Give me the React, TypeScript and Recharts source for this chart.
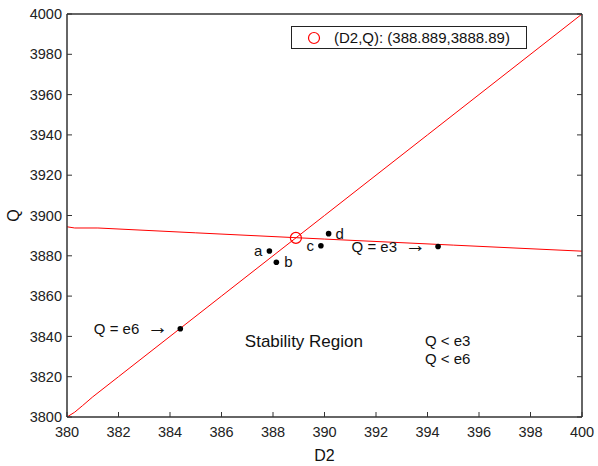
import {
  ComposedChart,
  Line,
  Scatter,
  XAxis,
  YAxis,
  Legend,
  ReferenceDot,
} from "recharts";

const FONT = "'Liberation Sans', Arial, sans-serif";
const RED = "#ff0000";
const AXIS = "#333";
const TICK_LEN = 5;

const D2_TICKS = [380, 382, 384, 386, 388, 390, 392, 394, 396, 398, 400];
const Q_TICKS = [3800, 3820, 3840, 3860, 3880, 3900, 3920, 3940, 3960, 3980, 4000];

// Q = e3 boundary (almost flat)
const e3D2 = [380, 380.3, 381.2, 385, 390, 395, 400];
const e3Q = [3894.4, 3893.8, 3893.8, 3891.4, 3888.3, 3885.3, 3882.3];

// Q = e6 boundary (diagonal)
const e6D2 = [380, 380.3, 380.6, 381, 382, 386, 390, 394, 400];
const e6Q = [3800, 3802.4, 3805.6, 3810, 3820, 3860, 3900, 3940, 4000];

// labelled sample points
const pointLabels = ["a", "b", "c", "d", "Q = e3", "Q = e6"];
const pointD2 = [387.86, 388.13, 389.86, 390.16, 394.41, 384.4];
const pointQ = [3882.4, 3876.8, 3885.0, 3891.0, 3884.6, 3843.8];

const crossD2 = [388.889];
const crossQ = [3888.89];

const e3Data = e3D2.map((d2, i) => ({ d2, q: e3Q[i] }));
const e6Data = e6D2.map((d2, i) => ({ d2, q: e6Q[i] }));
const pointData = pointD2.map((d2, i) => ({ d2, q: pointQ[i], label: pointLabels[i] }));
const crossData = crossD2.map((d2, i) => ({ d2, q: crossQ[i] }));

// label placement per point: negative = to the left
const labelDx: Record<string, number> = {
  a: -7,
  b: 8,
  c: -7,
  d: 7,
};

const PointShape = (props: any) => {
  const { cx, cy, payload } = props;
  const short = payload.label.length === 1;
  const dx = labelDx[payload.label] ?? -12;
  return (
    <g>
      <circle cx={cx} cy={cy} r={2.8} fill="#000" />
      <text
        x={cx + dx}
        y={cy + 5}
        textAnchor={dx < 0 ? "end" : "start"}
        fontSize={15}
        fontFamily={FONT}
        fill="#111"
      >
        {payload.label}
        {!short && (
          <tspan dx={8} fontSize={21} fontWeight={300} dy={0}>
            {"\u2192"}
          </tspan>
        )}
      </text>
    </g>
  );
};

const CrossShape = (props: any) => (
  <circle cx={props.cx} cy={props.cy} r={5.5} fill="none" stroke={RED} strokeWidth={1.2} />
);

const LegendBox = () => (
  <div
    style={{
      border: "1px solid #222",
      background: "#fff",
      width: 236,
      height: 23,
      display: "flex",
      alignItems: "center",
      fontFamily: FONT,
      fontSize: 15,
      color: "#111",
      boxSizing: "border-box",
    }}
  >
    <svg width={42} height={20}>
      <circle cx={22} cy={10} r={5.5} fill="none" stroke={RED} strokeWidth={1.2} />
    </svg>
    <span>(D2,Q): (388.889,3888.89)</span>
  </div>
);

// inward tick marks drawn together with their labels
const BottomTick = (props: any) => {
  const { x, y, payload } = props;
  return (
    <g>
      <line x1={x} x2={x} y1={y - 10} y2={y - 10 - TICK_LEN} stroke={AXIS} />
      <text x={x} y={y} dy="0.71em" textAnchor="middle" fontSize={14.5} fill="#222" fontFamily={FONT}>
        {payload.value}
      </text>
    </g>
  );
};

const LeftTick = (props: any) => {
  const { x, y, payload } = props;
  return (
    <g>
      <line x1={x + 5} x2={x + 5 + TICK_LEN} y1={y} y2={y} stroke={AXIS} />
      <text x={x} y={y} dy="0.355em" textAnchor="end" fontSize={14.5} fill="#222" fontFamily={FONT}>
        {payload.value}
      </text>
    </g>
  );
};

const TopTick = (props: any) => (
  <line x1={props.x} x2={props.x} y1={props.y} y2={props.y + TICK_LEN} stroke={AXIS} />
);

const RightTick = (props: any) => (
  <line x1={props.x} x2={props.x - TICK_LEN} y1={props.y} y2={props.y} stroke={AXIS} />
);

export default function App() {
  return (
    <div style={{ position: "absolute", left: 0, top: 0, background: "#fff" }}>
      <ComposedChart
        width={598}
        height={466}
        margin={{ top: 13, right: 15, bottom: 19, left: 7 }}
        style={{ fontFamily: FONT }}
      >
        <XAxis
          dataKey="d2"
          type="number"
          domain={[380, 400]}
          ticks={D2_TICKS}
          allowDataOverflow
          height={30}
          tickSize={0}
          tickMargin={10}
          tick={BottomTick}
          tickLine={false}
          axisLine={{ stroke: AXIS, strokeWidth: 1.5 }}
          label={{ value: "D2", position: "bottom", offset: 3, fontSize: 16, fill: "#111", fontFamily: FONT }}
        />
        <XAxis
          xAxisId="top"
          orientation="top"
          type="number"
          domain={[380, 400]}
          ticks={D2_TICKS}
          allowDataOverflow
          height={1}
          tickSize={0}
          tickMargin={0}
          tick={TopTick}
          tickLine={false}
          axisLine={{ stroke: AXIS, strokeWidth: 1.5 }}
        />
        <YAxis
          type="number"
          domain={[3800, 4000]}
          ticks={Q_TICKS}
          allowDataOverflow
          width={60}
          tickSize={0}
          tickMargin={5}
          tick={LeftTick}
          tickLine={false}
          axisLine={{ stroke: AXIS, strokeWidth: 1.5 }}
          label={{
            content: (p: any) => {
              const vb = p.viewBox;
              const x = vb.x + 6;
              const y = vb.y + vb.height / 2;
              return (
                <text
                  x={x}
                  y={y}
                  transform={`rotate(-90 ${x} ${y})`}
                  textAnchor="middle"
                  dominantBaseline="central"
                  fontSize={16}
                  fontFamily={FONT}
                  fill="#111"
                >
                  Q
                </text>
              );
            },
          }}
        />
        <YAxis
          yAxisId="right"
          orientation="right"
          type="number"
          domain={[3800, 4000]}
          ticks={Q_TICKS}
          allowDataOverflow
          width={1}
          tickSize={0}
          tickMargin={0}
          tick={RightTick}
          tickLine={false}
          axisLine={{ stroke: AXIS, strokeWidth: 1.5 }}
        />

        <Line
          data={e3Data}
          dataKey="q"
          type="linear"
          stroke={RED}
          strokeWidth={1}
          dot={false}
          isAnimationActive={false}
          legendType="none"
        />
        <Line
          data={e6Data}
          dataKey="q"
          type="linear"
          stroke={RED}
          strokeWidth={1}
          dot={false}
          isAnimationActive={false}
          legendType="none"
        />
        <Scatter data={pointData} dataKey="q" shape={PointShape} isAnimationActive={false} />
        <Scatter data={crossData} dataKey="q" shape={CrossShape} isAnimationActive={false} />

        <ReferenceDot
          x={389.2}
          y={3837.7}
          r={0}
          stroke="none"
          label={{ value: "Stability Region", position: "center", fontSize: 17, fill: "#111", fontFamily: FONT }}
        />
        <ReferenceDot
          x={393.9}
          y={3837.7}
          r={0}
          stroke="none"
          label={{ value: "Q < e3", position: "right", offset: 0, fontSize: 15, fill: "#111", fontFamily: FONT }}
        />
        <ReferenceDot
          x={393.9}
          y={3828.8}
          r={0}
          stroke="none"
          label={{ value: "Q < e6", position: "right", offset: 0, fontSize: 15, fill: "#111", fontFamily: FONT }}
        />

        <Legend
          layout="vertical"
          align="center"
          verticalAlign="middle"
          wrapperStyle={{ position: "absolute", left: 291, top: 26, width: 236 }}
          content={LegendBox}
        />
      </ComposedChart>
    </div>
  );
}
